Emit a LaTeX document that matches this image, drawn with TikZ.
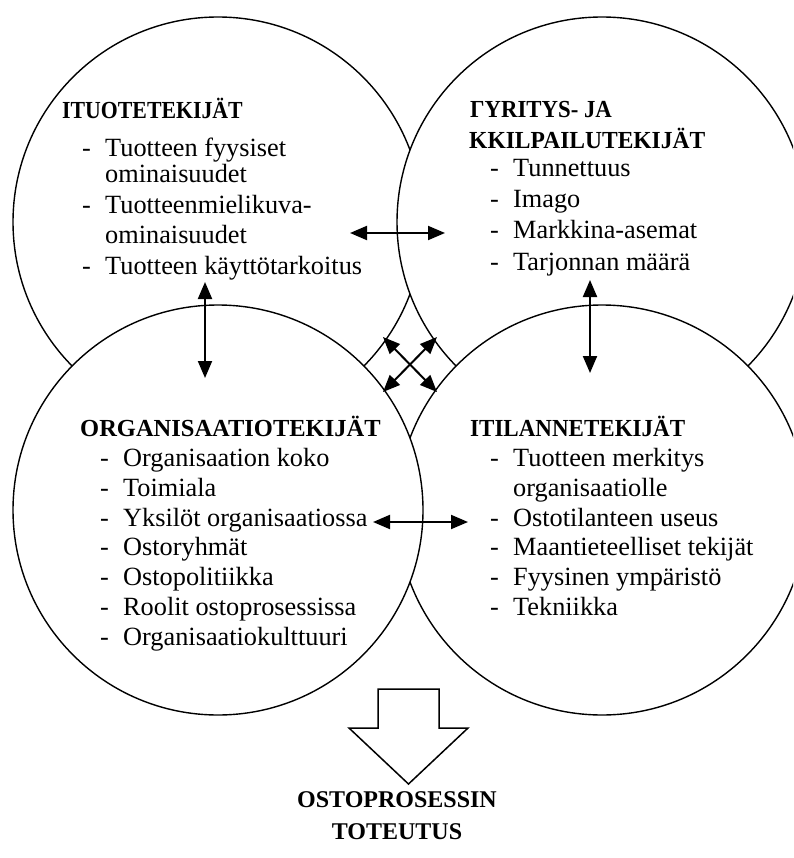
\documentclass[tikz,border=0pt]{standalone}
\usepackage{fontspec}
\usepackage{graphicx}
\setmainfont{Liberation Serif}
\usetikzlibrary{arrows.meta}
\tikzset{
  ring/.style={circle, draw=black, line width=1.4pt, fill=white, minimum size=410pt, inner sep=0pt},
  head/.style={anchor=base west, inner sep=0pt, font=\fontsize{24.5}{29}\selectfont\bfseries},
  item/.style={anchor=base west, inner sep=0pt, font=\fontsize{26.3}{31}\selectfont},
  dbl/.style={line width=2pt, {Triangle[length=17pt,width=14pt]}-{Triangle[length=17pt,width=14pt]}},
  blockarrow/.style={draw=black, line width=1.5pt, fill=white, line join=miter},
  final/.style={align=center, inner sep=0pt, font=\fontsize{24}{32}\selectfont\bfseries}
}
\newcommand{\dashitem}[1]{\makebox[23pt][l]{-}#1}
\newcommand{\narrow}[2]{\scalebox{#1}[1]{#2}}
\begin{document}
\begin{tikzpicture}[x=1pt,y=-1pt]
\useasboundingbox (0,0) rectangle (793,858);
\clip (0,0) rectangle (793,858);
\fill[white] (0,0) rectangle (793,858);
% circles
\node[ring] (tl) at (218,222) {};
\node[ring] (tr) at (602,222) {};
\node[ring] (br) at (602,510) {};
\node[ring] (bl) at (218,510) {};
% top-left text
\node[head] (tlh) at (62,119) {\narrow{0.89}{ITUOTETEKIJÄT}};
\node[item] (tl1) at (82,157) {\dashitem{Tuotteen fyysiset}};
\node[item] (tl1b) at (105,183) {ominaisuudet};
\node[item] (tl2) at (82,214) {\dashitem{Tuotteenmielikuva-}};
\node[item] (tl2b) at (105,244) {ominaisuudet};
\node[item] (tl3) at (82,275) {\dashitem{Tuotteen käyttötarkoitus}};
% top-right text
\node[head] (trh1) at (470,118) {\narrow{0.93}{ΓYRITYS- JA}};
\node[head] (trh2) at (469,149) {\narrow{0.96}{KKILPAILUTEKIJÄT}};
\node[item] (tr1) at (490,177) {\dashitem{Tunnettuus}};
\node[item] (tr2) at (490,208) {\dashitem{Imago}};
\node[item] (tr3) at (490,239) {\dashitem{Markkina-asemat}};
\node[item] (tr4) at (490,270) {\dashitem{Tarjonnan määrä}};
% bottom-left text
\node[head] (blh) at (80,436) {ORGANISAATIOTEKIJÄT};
\node[item] (bl1) at (100,466) {\dashitem{Organisaation koko}};
\node[item] (bl2) at (100,496) {\dashitem{Toimiala}};
\node[item] (bl3) at (100,526) {\dashitem{Yksilöt organisaatiossa}};
\node[item] (bl4) at (100,555) {\dashitem{Ostoryhmät}};
\node[item] (bl5) at (100,585) {\dashitem{Ostopolitiikka}};
\node[item] (bl6) at (100,615) {\dashitem{Roolit ostoprosessissa}};
\node[item] (bl7) at (100,645) {\dashitem{Organisaatiokulttuuri}};
% bottom-right text
\node[head] (brh) at (470,436) {\narrow{0.94}{ITILANNETEKIJÄT}};
\node[item] (br1) at (490,466) {\dashitem{Tuotteen merkitys}};
\node[item] (br1b) at (513,496) {organisaatiolle};
\node[item] (br2) at (490,526) {\dashitem{Ostotilanteen useus}};
\node[item] (br3) at (490,555) {\dashitem{Maantieteelliset tekijät}};
\node[item] (br4) at (490,585) {\dashitem{Fyysinen ympäristö}};
\node[item] (br5) at (490,615) {\dashitem{Tekniikka}};
% arrow end points
\coordinate (h1a) at (350,233);
\coordinate (h1b) at (445,233);
\coordinate (v1a) at (205,282);
\coordinate (v1b) at (205,378);
\coordinate (v2a) at (590,280);
\coordinate (v2b) at (590,373);
\coordinate (h2a) at (373,522);
\coordinate (h2b) at (468,522);
\coordinate (d1a) at (383,337);
\coordinate (d1b) at (437,392);
\coordinate (d2a) at (437,337);
\coordinate (d2b) at (383,392);
\draw[dbl] (h1a) -- (h1b);
\draw[dbl] (v1a) -- (v1b);
\draw[dbl] (v2a) -- (v2b);
\draw[dbl] (h2a) -- (h2b);
\draw[dbl] (d1a) -- (d1b);
\draw[dbl] (d2a) -- (d2b);
% big arrow
\draw[blockarrow] (378,689) -- (439,689) -- (439,728) -- (468,728) -- (408.5,784) -- (349,728) -- (378,728) -- cycle;
\node[final] (res) at (397,816) {OSTOPROSESSIN\\TOTEUTUS};
\end{tikzpicture}
\end{document}
